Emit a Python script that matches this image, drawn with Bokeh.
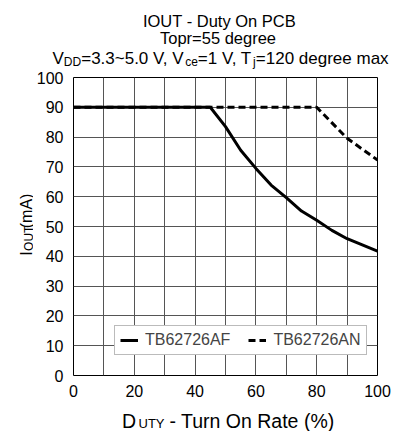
import math
from bokeh.plotting import figure
from bokeh.models import Range1d, Legend, LegendItem, FixedTicker
from bokeh.layouts import column, row
from bokeh.core.properties import value
from bokeh.embed import file_html
from bokeh.resources import INLINE

# ---- data ----
duty_af = [0, 45, 50, 55, 60, 65, 70, 75, 80, 85, 90, 100]
iout_af = [90, 90, 83.5, 75.6, 69.5, 63.9, 59.7, 55.2, 52.1, 48.7, 45.9, 41.7]
duty_an = [0, 45, 80, 90, 100]
iout_an = [90, 90, 90, 79.6, 72.3]
series_names = ["TB62726AF", "TB62726AN"]
x_ticks = [0, 10, 20, 30, 40, 50, 60, 70, 80, 90, 100]
x_tick_labels = {0: "0", 20: "20", 40: "40", 60: "60", 80: "80", 100: "100"}
y_ticks = [0, 10, 20, 30, 40, 50, 60, 70, 80, 90, 100]

FONT = "Liberation Sans"
W, H = 393, 431
TOP_H = 70          # title strip height
BOT_H = 25          # x-label strip height
YL_W = 33           # y-label strip width
MID_H = H - TOP_H - BOT_H
FL, FR, FT, FB = 71, 377, 77, 375   # frame edges in page px


def text_fig(w, h):
    f = figure(width=w, height=h, output_backend="svg", toolbar_location=None,
               title=None,
               x_range=Range1d(0, w), y_range=Range1d(0, h),
               x_axis_type=None, y_axis_type=None,
               min_border=0, min_border_left=0, min_border_right=0,
               min_border_top=0, min_border_bottom=0)
    f.outline_line_color = None
    f.background_fill_color = "white"
    f.border_fill_color = "white"
    f.xgrid.visible = False
    f.ygrid.visible = False
    return f


def put(f, x0, y0, h, text, px, py, size, align="left", angle=0.0):
    # px, py: page pixel position of the text anchor; (x0, y0): page position of strip top-left
    f.text(x=[px - x0], y=[h - (py - y0)], text=[text],
           text_font=value(FONT), text_font_size=value(size),
           text_align=align, text_baseline="alphabetic", angle=angle,
           text_color="black")


# ---- title strip ----
top = text_fig(W, TOP_H)
put(top, 0, 0, TOP_H, "IOUT - Duty On PCB", 219, 20.5, "16.5px", align="center")
put(top, 0, 0, TOP_H, "Topr=55 degree", 217.5, 37.5, "16.5px", align="center")
put(top, 0, 0, TOP_H, "V", 52, 57.5, "17px")
put(top, 0, 0, TOP_H, "DD", 63.3, 61, "12px")
put(top, 0, 0, TOP_H, "=3.3~5.0 V, V", 80.7, 57.5, "17px")
put(top, 0, 0, TOP_H, "ce", 184.7, 61, "12px")
put(top, 0, 0, TOP_H, "=1 V, T", 197.3, 57.5, "17px")
put(top, 0, 0, TOP_H, "j", 252.6, 61, "12px")
put(top, 0, 0, TOP_H, "=120 degree max", 255.3, 57.5, "17px")

# ---- y-label strip ----
ylab = text_fig(YL_W, MID_H)
put(ylab, 0, TOP_H, MID_H, "I", 26, 271, "16px", angle=math.pi / 2)
put(ylab, 0, TOP_H, MID_H, "OUT", 28.5, 265.5, "12px", angle=math.pi / 2)
put(ylab, 0, TOP_H, MID_H, "(mA)", 26, 240, "16px", angle=math.pi / 2)

# ---- x-label strip ----
xlab = text_fig(W, BOT_H)
y0b = TOP_H + MID_H
put(xlab, 0, y0b, BOT_H, "D", 121.5, 420, "19.5px")
put(xlab, 0, y0b, BOT_H, "UTY", 138, 423, "13px")
put(xlab, 0, y0b, BOT_H, "- Turn On Rate (%)", 169, 420, "19.5px")

# ---- main chart ----
p = figure(width=W - YL_W, height=MID_H, output_backend="svg", toolbar_location=None,
           x_range=Range1d(0, 100), y_range=Range1d(0, 100),
           min_border_left=FL - YL_W, min_border_right=W - FR,
           min_border_top=FT - TOP_H, min_border_bottom=(TOP_H + MID_H) - FB)
p.background_fill_color = "white"
p.border_fill_color = "white"
p.outline_line_color = "black"
p.outline_line_width = 1

p.xaxis.ticker = FixedTicker(ticks=x_ticks)
p.yaxis.ticker = FixedTicker(ticks=y_ticks)
p.xaxis.major_label_overrides = {t: x_tick_labels.get(t, "") for t in x_ticks}
for ax in (p.xaxis[0], p.yaxis[0]):
    ax.axis_line_color = None
    ax.major_tick_line_color = None
    ax.minor_tick_line_color = None
    ax.major_tick_out = 0
    ax.major_tick_in = 0
    ax.minor_tick_out = 0
    ax.minor_tick_in = 0
    ax.major_label_text_font = FONT
    ax.major_label_text_font_size = "16px"
    ax.major_label_text_color = "black"
p.xaxis.major_label_standoff = 9
p.yaxis.major_label_standoff = 10

p.xgrid.ticker = FixedTicker(ticks=x_ticks)
p.ygrid.ticker = FixedTicker(ticks=y_ticks)
for g in (p.xgrid[0], p.ygrid[0]):
    g.grid_line_color = "#555555"
    g.grid_line_width = 1

r_an = p.line(duty_an, iout_an, line_color="black", line_width=3, line_dash="7 4")
r_af = p.line(duty_af, iout_af, line_color="black", line_width=3)

legend = Legend(items=[LegendItem(label=series_names[0], renderers=[r_af]),
                       LegendItem(label=series_names[1], renderers=[r_an])],
                location=(41, 20), orientation="horizontal",
                label_text_font=FONT, label_text_font_size="16px",
                glyph_width=18, glyph_height=16, label_height=16,
                label_standoff=7, spacing=18, padding=5, margin=0,
                border_line_color="#777777", border_line_width=1,
                background_fill_color="white", background_fill_alpha=1)
p.add_layout(legend, "center")

layout = column(top, row(ylab, p, spacing=0), xlab, spacing=0)

open("out.html", "w").write(file_html(layout, INLINE))
